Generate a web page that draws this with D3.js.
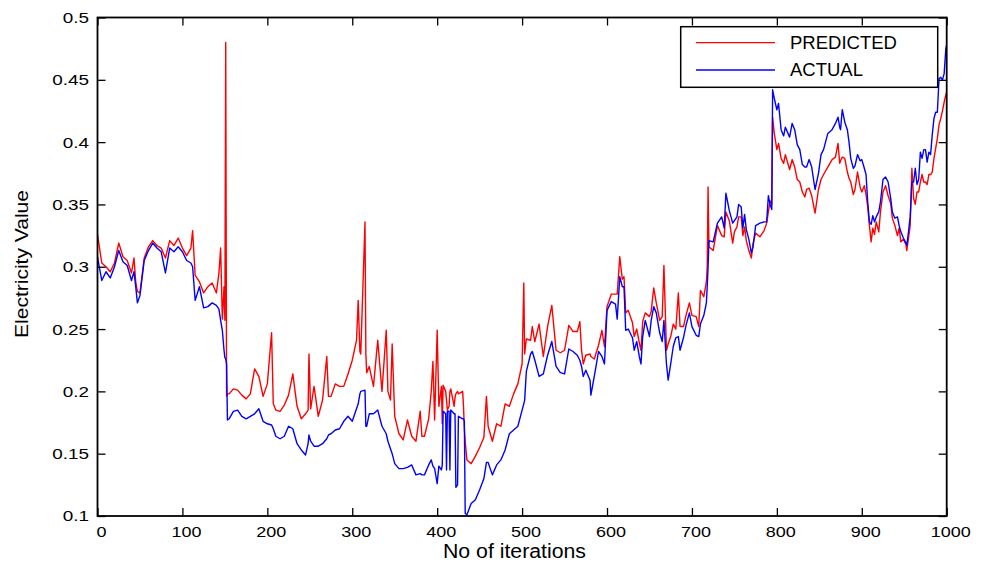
<!DOCTYPE html>
<html>
<head>
<meta charset="utf-8">
<script src="https://cdn.jsdelivr.net/npm/d3@7"></script>
<style>
  html, body { margin: 0; padding: 0; background: #fff; }
  svg { display: block; font-family: "Liberation Sans", Arial, Helvetica, sans-serif; }
</style>
</head>
<body>
<svg id="chart" width="984" height="567"></svg>
<script>
// Iteration index shared by both series (denser where the curves jump)
const iterations = [
  0,5,10,15,20,25,30,35,40,43,45,47,50,55,60,65,70,75,80,85,90,95,100,105,110,112,115,120,125,
  130,135,140,143,145,147,149,150,151,152,153,155,160,165,170,175,180,185,190,195,200,205,207,210,215,220,225,230,235,240,245,248,249,
  251,255,260,265,270,272,275,280,285,290,295,300,305,307,309,310,315,316,317,320,325,330,335,340,342,345,347,350,355,360,365,370,375,
  380,382,385,390,393,395,397,400,402,405,406,407,410,411,412,414,415,416,420,421,422,424,425,430,431,432,433,435,440,445,450,455,458,460,465,470,475,480,485,490,495,500,
  502,503,505,510,512,515,520,525,530,535,540,545,550,555,560,565,568,570,572,575,580,581,585,590,594,597,600,605,610,612,615,618,620,622,
  625,630,632,635,638,640,642,645,650,652,655,658,662,665,667,670,672,675,678,681,684,686,690,693,697,700,705,708,710,714,717,718,719,720,725,730,735,738,740,744,748,
  750,753,755,758,760,762,764,767,770,772,775,780,785,788,790,792,794,795,797,800,802,805,808,810,815,818,821,824,827,830,833,835,838,841,845,849,852,855,860,865,869,872,874,
  875,877,880,883,885,887,890,892,895,898,900,903,905,907,909,911,913,915,917,920,922,925,928,931,934,936,939,942,944,946,949,952,953,955,957,959,961,963,965,967,969,971,973,975,977,979,981,983,985,987,989,991,993,995,997,999,1000
];

// Predicted electricity value
const predicted = [
  .326,.303,.300,.296,.303,.319,.308,.305,.295,.307,.288,.280,.279,.307,.316,.321,.317,.315,.307,.321,.317,.323,.315,.309,.315,.329,.293,.288,.279,
  .284,.287,.279,.295,.315,.258,.284,.257,.480,.196,.198,.198,.202,.201,.197,.194,.198,.218,.212,.196,.206,.247,.190,.185,.184,.189,.197,.214,.188,.178,.182,.185,.230,
  .186,.204,.180,.193,.228,.196,.196,.206,.204,.204,.214,.225,.241,.273,.232,.230,.336,.230,.215,.220,.204,.241,.200,.249,.200,.193,.238,.180,.166,.161,.177,.164,.160,
  .184,.164,.164,.178,.200,.224,.177,.249,.188,.204,.174,.205,.200,.193,.185,.188,.200,.202,.188,.195,.198,.200,.198,.200,.188,.170,.160,.145,.142,.148,.155,.163,.196,.172,.160,.174,.172,.190,.188,.198,.206,.222,
  .287,.230,.242,.241,.252,.240,.254,.228,.252,.269,.233,.231,.233,.253,.248,.248,.256,.233,.222,.229,.230,.228,.226,.237,.249,.236,.268,.278,.278,.278,.308,.290,.292,.263,
  .265,.255,.244,.250,.239,.233,.256,.263,.260,.264,.283,.271,.257,.260,.301,.233,.238,.244,.254,.250,.279,.252,.252,.261,.271,.261,.260,.252,.281,.276,.288,.300,.364,.316,.313,.333,.325,.324,.344,.337,.319,
  .328,.332,.340,.340,.325,.332,.321,.313,.307,.319,.327,.324,.329,.335,.344,.353,.350,.420,.407,.394,.399,.387,.383,.390,.378,.386,.380,.370,.368,.360,.356,.362,.363,.357,.343,.362,.370,.374,.380,.386,.388,.399,.383,
  .385,.388,.387,.376,.371,.368,.358,.362,.376,.364,.360,.365,.358,.348,.333,.320,.331,.326,.336,.328,.344,.360,.365,.357,.351,.339,.333,.325,.331,.320,.322,.318,.313,.323,.333,.379,.355,.350,.360,.360,.368,.374,.368,.368,.366,.374,.374,.376,.387,.395,.403,.414,.419,.425,.432,.438,.440
];

// Actual electricity value
const actual = [
  .308,.289,.296,.291,.300,.313,.304,.301,.289,.296,.284,.271,.277,.305,.313,.319,.315,.312,.295,.315,.312,.316,.312,.305,.303,.300,.273,.284,.267,
  .268,.271,.269,.266,.257,.249,.233,.227,.226,.222,.177,.178,.184,.185,.180,.178,.180,.182,.186,.176,.174,.173,.170,.164,.162,.164,.172,.170,.158,.153,.149,.158,.165,
  .160,.156,.156,.158,.162,.165,.166,.169,.170,.176,.180,.176,.186,.190,.198,.200,.201,.172,.172,.182,.182,.185,.172,.166,.160,.154,.150,.142,.138,.138,.139,.141,.133,
  .134,.133,.133,.141,.145,.140,.138,.126,.140,.137,.141,.184,.182,.137,.184,.184,.137,.185,.182,.182,.123,.125,.180,.178,.178,.176,.102,.101,.110,.113,.121,.130,.143,.143,.133,.141,.145,.153,.166,.169,.172,.185,
  .190,.193,.216,.230,.232,.225,.212,.214,.229,.240,.220,.215,.214,.234,.232,.229,.225,.220,.212,.217,.209,.197,.212,.232,.228,.222,.265,.272,.270,.258,.292,.284,.284,.249,
  .250,.243,.233,.240,.228,.222,.244,.257,.244,.257,.268,.263,.247,.240,.257,.222,.209,.222,.236,.243,.244,.233,.243,.253,.263,.252,.245,.244,.254,.261,.271,.284,.300,.321,.320,.335,.340,.331,.359,.345,.335,
  .337,.340,.350,.348,.331,.342,.330,.322,.311,.316,.333,.335,.336,.336,.357,.350,.346,.442,.435,.426,.431,.410,.405,.412,.404,.415,.410,.398,.394,.382,.380,.380,.386,.380,.362,.375,.390,.394,.407,.410,.415,.420,.412,
  .410,.426,.416,.410,.400,.387,.379,.381,.390,.385,.386,.379,.374,.352,.336,.334,.341,.336,.340,.344,.352,.370,.372,.368,.355,.344,.339,.340,.333,.328,.323,.319,.317,.328,.340,.368,.368,.379,.366,.370,.392,.387,.394,.394,.384,.392,.390,.406,.419,.424,.424,.451,.452,.450,.455,.475,.478
];

const xTicks = [0, 100, 200, 300, 400, 500, 600, 700, 800, 900, 1000];
const yTicks = [0.1, 0.15, 0.2, 0.25, 0.3, 0.35, 0.4, 0.45, 0.5];
const seriesNames = ["PREDICTED", "ACTUAL"];
const seriesColors = ["#ff0000", "#0000ff"];
const xTitle = "No of iterations";
const yTitle = "Electricity Value";

if (predicted.length !== iterations.length || actual.length !== iterations.length) {
  console.error("length mismatch", iterations.length, predicted.length, actual.length);
}

const plot = { left: 97.5, right: 946.7, top: 17.5, bottom: 516 };
const x = d3.scaleLinear().domain([0, 1000]).range([plot.left, plot.right]);
const y = d3.scaleLinear().domain([0.1, 0.5]).range([plot.bottom, plot.top]);

const svg = d3.select("#chart");

svg.append("defs").append("clipPath").attr("id", "plot-clip")
  .append("rect")
  .attr("x", plot.left).attr("y", plot.top)
  .attr("width", plot.right - plot.left).attr("height", plot.bottom - plot.top);

// Series lines: predicted first, actual drawn over it
const series = [predicted, actual];
const line = d3.line()
  .x((d, i) => x(iterations[i]))
  .y(d => y(d));

svg.append("g").attr("clip-path", "url(#plot-clip)")
  .selectAll("path")
  .data(series)
  .join("path")
  .attr("d", d => line(d))
  .attr("fill", "none")
  .attr("stroke", (d, i) => seriesColors[i])
  .attr("stroke-width", 1.4)
  .attr("stroke-linejoin", "round");

const tickLen = 8;
const tickFont = 15.5;
const fmt = d => String(+d.toFixed(2));

function styleAxis(g) {
  g.select(".domain").remove();
  g.selectAll(".tick line").attr("stroke", "#000").attr("stroke-width", 1.3);
  g.selectAll(".tick text").attr("fill", "#000").attr("font-size", tickFont);
}

// Bottom axis with labels (glyphs slightly widened)
svg.append("g")
  .attr("transform", `translate(0,${plot.bottom})`)
  .call(d3.axisBottom(x).tickValues(xTicks).tickSizeInner(-tickLen).tickSizeOuter(0).tickPadding(10).tickFormat(d3.format("d")))
  .call(styleAxis)
  .call(g => g.selectAll(".tick text").attr("dx", 3).attr("transform", "scale(1.16,1)"));

// Left axis with labels
svg.append("g")
  .attr("transform", `translate(${plot.left},0)`)
  .call(d3.axisLeft(y).tickValues(yTicks).tickSizeInner(-tickLen).tickSizeOuter(0).tickPadding(7).tickFormat(fmt))
  .call(styleAxis)
  .call(g => g.selectAll(".tick text").attr("transform", "scale(1.22,1)"));

// Top and right axes: ticks only
svg.append("g")
  .attr("transform", `translate(0,${plot.top})`)
  .call(d3.axisTop(x).tickValues(xTicks).tickSizeInner(-tickLen).tickSizeOuter(0).tickFormat(""))
  .call(styleAxis);

svg.append("g")
  .attr("transform", `translate(${plot.right},0)`)
  .call(d3.axisRight(y).tickValues(yTicks).tickSizeInner(-tickLen).tickSizeOuter(0).tickFormat(""))
  .call(styleAxis);

// Axes box
svg.append("rect")
  .attr("x", plot.left).attr("y", plot.top)
  .attr("width", plot.right - plot.left).attr("height", plot.bottom - plot.top)
  .attr("fill", "none").attr("stroke", "#000").attr("stroke-width", 1.8);

// Axis titles
svg.append("text")
  .attr("x", 514.5).attr("y", 558)
  .attr("text-anchor", "middle").attr("font-size", 19.5).attr("fill", "#000")
  .attr("textLength", 143).attr("lengthAdjust", "spacingAndGlyphs")
  .text(xTitle);

svg.append("text")
  .attr("transform", "translate(28,264) rotate(-90)")
  .attr("text-anchor", "middle").attr("font-size", 18.5).attr("fill", "#000")
  .attr("textLength", 148).attr("lengthAdjust", "spacingAndGlyphs")
  .text(yTitle);

// Legend
const legend = svg.append("g").attr("transform", "translate(680.7,26.7)");
legend.append("rect")
  .attr("width", 257).attr("height", 60.6)
  .attr("fill", "#fff").attr("stroke", "#000").attr("stroke-width", 1.5);
const rows = legend.selectAll("g.row").data(seriesNames).join("g")
  .attr("class", "row")
  .attr("transform", (d, i) => `translate(0,${16 + i * 27.3})`);
rows.append("line")
  .attr("x1", 15.3).attr("x2", 94.3)
  .attr("stroke", (d, i) => seriesColors[i]).attr("stroke-width", 1.3);
rows.append("text")
  .attr("x", 109.3).attr("dy", "0.35em")
  .attr("font-size", 18.5).attr("fill", "#000")
  .text(d => d);
</script>
</body>
</html>
